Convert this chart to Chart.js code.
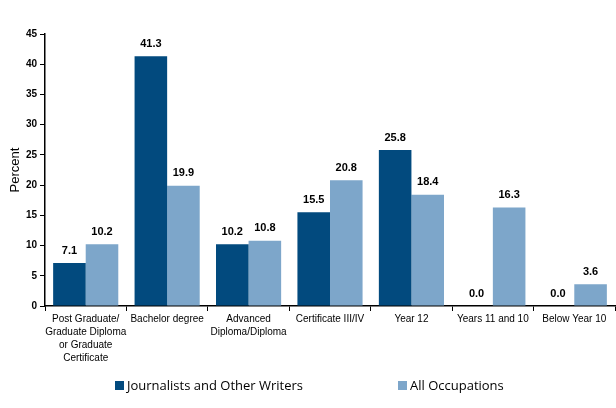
<!DOCTYPE html>
<html>
<head>
<meta charset="utf-8">
<script src="https://cdn.jsdelivr.net/npm/chart.js@4/dist/chart.umd.min.js"></script>
<style>
    html, body { margin: 0; padding: 0; background: #ffffff; }
    #wrap { width: 616px; height: 408px; position: relative; }
</style>
</head>
<body>
<div id="wrap"><canvas id="graficoQualificacoes"></canvas></div>
<script>
/* Dados do gráfico */
const categorias = [
    ['Post Graduate/', 'Graduate Diploma', 'or Graduate', 'Certificate'],
    'Bachelor degree',
    ['Advanced', 'Diploma/Diploma'],
    'Certificate III/IV',
    'Year 12',
    'Years 11 and 10',
    'Below Year 10'
];
const nomesSeries = ['Journalists and Other Writers', 'All Occupations'];
const valoresJornalistas = [7.1, 41.3, 10.2, 15.5, 25.8, 0.0, 0.0];
const valoresTodas = [10.2, 19.9, 10.8, 20.8, 18.4, 16.3, 3.6];
const coresSeries = ['#024A7E', '#7DA6CA'];
const eixoY = { min: 0, max: 45, passo: 5 };

/* Etiquetas de valor por cima das barras */
const pluginValores = {
    id: 'valores',
    afterDatasetsDraw: function (chart) {
        const ctx = chart.ctx;
        ctx.save();
        ctx.font = 'bold 11px "Liberation Sans", Arial, sans-serif';
        ctx.fillStyle = '#000000';
        ctx.textAlign = 'center';
        ctx.textBaseline = 'bottom';
        chart.data.datasets.forEach(function (ds, i) {
            chart.getDatasetMeta(i).data.forEach(function (bar, j) {
                ctx.fillText(ds.data[j].toFixed(1), bar.x, bar.y - 7);
            });
        });
        ctx.restore();
    }
};

/* Legenda desenhada à mão para respeitar o espaçamento original */
const pluginLegenda = {
    id: 'legendaManual',
    afterDraw: function (chart) {
        const ctx = chart.ctx;
        const posicoes = [115, 398];
        const y = 385;
        ctx.save();
        ctx.font = '13px "Open Sans", "Liberation Sans", sans-serif';
        ctx.textBaseline = 'middle';
        ctx.textAlign = 'left';
        chart.data.datasets.forEach(function (ds, i) {
            ctx.fillStyle = ds.backgroundColor;
            ctx.fillRect(posicoes[i], y - 4, 9, 9);
            ctx.fillStyle = '#000000';
            ctx.fillText(ds.label, posicoes[i] + 12, y + 1);
        });
        ctx.restore();
    }
};

new Chart(document.getElementById('graficoQualificacoes'), {
    type: 'bar',
    data: {
        labels: categorias,
        datasets: [
            { label: nomesSeries[0], data: valoresJornalistas, backgroundColor: coresSeries[0] },
            { label: nomesSeries[1], data: valoresTodas, backgroundColor: coresSeries[1] }
        ]
    },
    options: {
        responsive: true,
        maintainAspectRatio: false,
        animation: false,
        datasets: {
            bar: { categoryPercentage: 0.8, barPercentage: 1.0 }
        },
        layout: {
            padding: { top: 34, right: 1, left: 0, bottom: 36 }
        },
        plugins: {
            legend: { display: false },
            tooltip: { enabled: false }
        },
        scales: {
            x: {
                grid: {
                    display: true,
                    drawOnChartArea: false,
                    drawTicks: true,
                    tickLength: 5,
                    color: '#000000',
                    offset: true
                },
                border: { color: '#000000', width: 1.5 },
                ticks: {
                    color: '#000000',
                    maxRotation: 0,
                    autoSkip: false,
                    padding: 2,
                    font: { family: '"Liberation Sans", Arial, sans-serif', size: 10, lineHeight: 1.3 }
                },
                afterFit: function (scale) { scale.height = 66; }
            },
            y: {
                min: eixoY.min,
                max: eixoY.max,
                grid: {
                    display: true,
                    drawOnChartArea: false,
                    drawTicks: true,
                    tickLength: 5,
                    color: '#000000'
                },
                border: { color: '#000000', width: 1.5 },
                ticks: {
                    stepSize: eixoY.passo,
                    color: '#000000',
                    padding: 3,
                    font: { family: '"Liberation Sans Narrow", "Liberation Sans", Arial, sans-serif', size: 10, weight: 'bold' }
                },
                title: {
                    display: true,
                    text: 'Percent',
                    color: '#000000',
                    padding: { top: 8, bottom: 0 },
                    font: { family: '"Liberation Sans", Arial, sans-serif', size: 13 }
                },
                afterFit: function (scale) { scale.width = 45; }
            }
        }
    },
    plugins: [pluginValores, pluginLegenda]
});
</script>
</body>
</html>
